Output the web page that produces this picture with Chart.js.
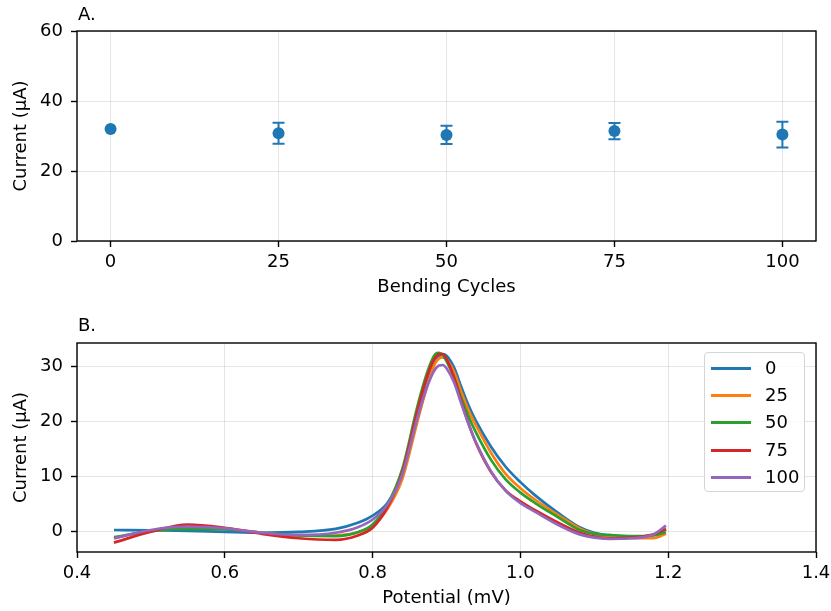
<!DOCTYPE html>
<html>
<head>
<meta charset="utf-8">
<script src="https://cdn.jsdelivr.net/npm/chart.js@4.4.1/dist/chart.umd.min.js"></script>
<style>
  html, body { margin: 0; padding: 0; background: #fff; }
  #wrap { position: relative; width: 831px; height: 611px; font-family: 'DejaVu Sans', sans-serif; }
  canvas { position: absolute; left: 0; }
  #cvTop { top: 0; }
  #cvBot { top: 305px; }
  #legend {
    position: absolute; left: 704px; top: 352px; width: 101px; height: 140px;
    border: 1px solid #d5d5d5; border-radius: 4px; background: rgba(255,255,255,0.85);
    box-sizing: border-box;
  }
  .row { position: absolute; left: 0; height: 22px; width: 100%; }
  .row .ln { position: absolute; left: 6px; top: 10px; width: 40px; height: 3px; }
  .row .tx { position: absolute; left: 60px; top: 0; font-size: 18px; line-height: 22px; color: #000; }
</style>
</head>
<body>
<div id="wrap">
  <canvas id="cvTop" width="831" height="305"></canvas>
  <canvas id="cvBot" width="831" height="306"></canvas>
  <div id="legend"></div>
</div>
<script>
// ── Data ──────────────────────────────────────────────────
const cycles      = [0, 25, 50, 75, 100];
const meanCurrent = [32.0, 30.8, 30.3, 31.4, 30.4];
const errCurrent  = [0, 3.0, 2.6, 2.35, 3.7];

const cycleLabels  = ['0', '25', '50', '75', '100'];
const seriesColors = ['#1f77b4', '#ff7f0e', '#2ca02c', '#d62728', '#9467bd'];

const potential = [0.45, 0.5, 0.55, 0.6, 0.65, 0.7, 0.75, 0.78, 0.8, 0.82, 0.84, 0.86, 0.87, 0.88, 0.885,
                   0.89, 0.895, 0.9, 0.91, 0.92, 0.93, 0.94, 0.96, 0.98, 1.0, 1.02, 1.05, 1.08, 1.1, 1.12,
                   1.15, 1.18, 1.197];

const curve0   = [0.2, 0.15, 0.05, -0.15, -0.3, -0.15, 0.4, 1.5, 2.8, 5.1, 10.3, 20.0, 25.0, 29.3, 30.9,
                  31.8, 32.2, 31.9, 29.8, 26.2, 22.8, 20.0, 15.4, 11.7, 8.9, 6.5, 3.4, 0.7, -0.3, -0.8,
                  -1.0, -0.7, 0.3];
const curve25  = [-1.3, 0.1, 0.8, 0.5, -0.3, -0.8, -0.8, -0.2, 1.0, 4.0, 9.4, 19.6, 24.6, 29.0, 30.6,
                  31.4, 31.6, 31.2, 29.0, 25.3, 21.9, 19.2, 14.3, 10.4, 7.8, 5.7, 3.0, 0.5, -0.5, -1.0,
                  -1.3, -1.3, -0.5];
const curve50  = [-1.1, 0.0, 0.4, 0.3, -0.3, -0.8, -0.9, -0.2, 1.2, 4.8, 11.2, 22.3, 27.2, 31.0, 32.2,
                  32.4, 32.0, 30.9, 28.0, 24.2, 20.8, 17.9, 13.0, 9.4, 7.0, 5.1, 2.6, 0.2, -0.5, -0.7,
                  -0.9, -0.8, -0.2];
const curve75  = [-2.1, -0.1, 1.2, 0.6, -0.5, -1.3, -1.6, -0.8, 0.6, 4.3, 10.6, 21.5, 26.5, 30.4, 31.6,
                  32.2, 32.2, 31.3, 28.0, 23.6, 19.5, 16.0, 10.8, 7.4, 5.4, 3.8, 1.6, -0.3, -1.0, -1.3,
                  -1.2, -0.6, 0.4];
const curve100 = [-1.3, 0.2, 0.8, 0.5, -0.3, -0.7, -0.3, 0.7, 2.1, 4.8, 10.2, 20.3, 24.8, 28.3, 29.5,
                  30.1, 30.2, 29.6, 27.1, 23.2, 19.4, 16.1, 10.9, 7.3, 5.1, 3.5, 1.2, -0.6, -1.2, -1.4,
                  -1.3, -0.6, 1.0];
const curves = [curve0, curve25, curve50, curve75, curve100];

const topXTicks = [0, 25, 50, 75, 100];
const topYTicks = [0, 20, 40, 60];
const botXTicks = [0.4, 0.6, 0.8, 1.0, 1.2, 1.4];
const botYTicks = [0, 10, 20, 30];

// ── Defaults ──────────────────────────────────────────────
Chart.defaults.font.family = "'DejaVu Sans', sans-serif";
Chart.defaults.font.size   = 18;
Chart.defaults.color       = '#000';

const GRID = 'rgba(0,0,0,0.10)';

// ── Plugins ───────────────────────────────────────────────
// full box around the plot area + panel letter
const framePlugin = {
  id: 'frame',
  afterDraw(chart, args, opts) {
    const { ctx, chartArea: a } = chart;
    ctx.save();
    ctx.strokeStyle = '#000';
    ctx.lineWidth = 1.4;
    ctx.strokeRect(a.left, a.top, a.right - a.left, a.bottom - a.top);
    ctx.fillStyle = '#000';
    ctx.font = "18px 'DejaVu Sans', sans-serif";
    ctx.textBaseline = 'middle';
    ctx.textAlign = 'left';
    ctx.fillText(opts.label, a.left + 1, a.top + opts.dy);
    ctx.restore();
  }
};

const errorBarPlugin = {
  id: 'errorBars',
  afterDatasetsDraw(chart) {
    const { ctx, scales } = chart;
    chart.data.datasets.forEach(ds => {
      if (!ds.errors) return;
      ctx.save();
      ctx.strokeStyle = ds.borderColor;
      ctx.lineWidth = 2;
      ds.data.forEach((p, i) => {
        const e = ds.errors[i];
        if (!e) return;
        const x  = scales.x.getPixelForValue(p.x);
        const y1 = scales.y.getPixelForValue(p.y + e);
        const y2 = scales.y.getPixelForValue(p.y - e);
        ctx.beginPath();
        ctx.moveTo(x, y1); ctx.lineTo(x, y2);
        ctx.moveTo(x - 6, y1); ctx.lineTo(x + 6, y1);
        ctx.moveTo(x - 6, y2); ctx.lineTo(x + 6, y2);
        ctx.stroke();
      });
      ctx.restore();
    });
  }
};

function axis(min, max, ticks, opts) {
  return Object.assign({
    type: 'linear',
    min, max,
    afterBuildTicks: s => { s.ticks = ticks.map(v => ({ value: v })); },
    grid: { color: GRID, lineWidth: 1, tickColor: '#000', tickLength: 6, tickWidth: 1.4 },
    border: { display: false },
  }, opts);
}

// x axis: fixed height, no extra room for overhanging edge labels
function fitX(h) {
  return s => { s.height = h; s.paddingLeft = 0; s.paddingRight = 0; };
}

// ── Top chart: current vs bending cycles ──────────────────
new Chart(document.getElementById('cvTop'), {
  type: 'scatter',
  data: {
    datasets: [{
      data: cycles.map((c, i) => ({ x: c, y: meanCurrent[i] })),
      errors: errCurrent,
      backgroundColor: '#1f77b4',
      borderColor: '#1f77b4',
      pointRadius: 6,
      pointBorderWidth: 0,
    }],
  },
  options: {
    responsive: false,
    animation: false,
    layout: { padding: { left: 0, right: 15, top: 31, bottom: 0 } },
    plugins: { legend: { display: false }, tooltip: { enabled: false }, frame: { label: 'A.', dy: -16 } },
    scales: {
      x: axis(-5, 105, topXTicks, {
        afterFit: fitX(64),
        ticks: { padding: 5, color: '#000' },
        title: { display: true, text: 'Bending Cycles', color: '#000', padding: 7 },
      }),
      y: axis(0, 60, topYTicks, {
        afterFit: s => { s.width = 77; },
        ticks: { padding: 8, color: '#000' },
        title: { display: true, text: 'Current (μA)', color: '#000', padding: 11 },
      }),
    },
  },
  plugins: [errorBarPlugin, framePlugin],
});

// ── Bottom chart: voltammograms ───────────────────────────
new Chart(document.getElementById('cvBot'), {
  type: 'line',
  data: {
    datasets: curves.map((ys, i) => ({
      label: cycleLabels[i],
      data: potential.map((p, j) => ({ x: p, y: ys[j] })),
      borderColor: seriesColors[i],
      borderWidth: 2.7,
      pointRadius: 0,
      cubicInterpolationMode: 'monotone',
      fill: false,
      order: curves.length - i,
    })),
  },
  options: {
    responsive: false,
    animation: false,
    layout: { padding: { left: 0, right: 15, top: 38, bottom: 0 } },
    plugins: { legend: { display: false }, tooltip: { enabled: false }, frame: { label: 'B.', dy: -17 } },
    scales: {
      x: axis(0.4, 1.4, botXTicks, {
        afterFit: fitX(59),
        ticks: { padding: 5, color: '#000', callback: v => Number(v).toFixed(1) },
        title: { display: true, text: 'Potential (mV)', color: '#000', padding: 2 },
      }),
      y: axis(-3.8, 34.2, botYTicks, {
        afterFit: s => { s.width = 77; },
        ticks: { padding: 8, color: '#000' },
        title: { display: true, text: 'Current (μA)', color: '#000', padding: 11 },
      }),
    },
  },
  plugins: [framePlugin],
});

// ── Legend (inside bottom axes) ───────────────────────────
const legend = document.getElementById('legend');
cycleLabels.forEach((lbl, i) => {
  const row = document.createElement('div');
  row.className = 'row';
  row.style.top = (4 + i * 27.2) + 'px';
  row.innerHTML = `<div class="ln" style="background:${seriesColors[i]}"></div><div class="tx">${lbl}</div>`;
  legend.appendChild(row);
});
</script>
</body>
</html>
